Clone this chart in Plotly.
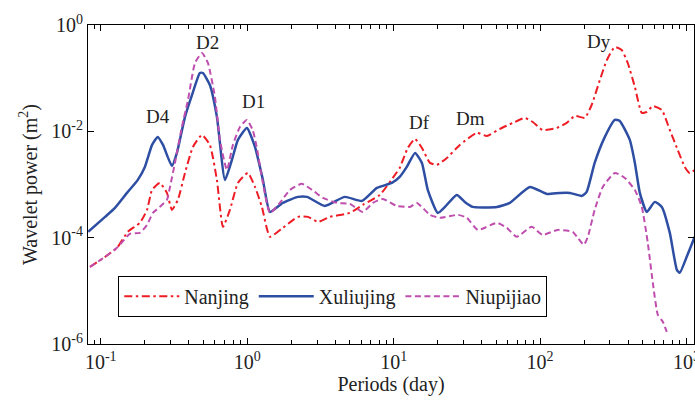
import numpy as np
import plotly.graph_objects as go

# ---- data (period in days, wavelet power in m^2) ----
xul_period = [0.082, 0.107, 0.125, 0.151, 0.179, 0.200, 0.224, 0.245, 0.266, 0.306, 0.331, 0.376,
              0.420, 0.475, 0.498, 0.556, 0.621, 0.705, 0.786, 0.864, 0.995, 1.13, 1.28, 1.43,
              1.75, 2.22, 2.56, 3.39, 4.64, 6.07, 7.69, 9.73, 11.0, 12.3, 14.0, 15.6, 17.1, 20.0,
              22.4, 27.0, 30.6, 34.7, 50.7, 62.1, 85.1, 111, 136, 160, 193, 208, 236, 277, 324,
              350, 410, 444, 480, 536, 607, 678, 769, 859, 899, 1003, 1138]
xul_power = [1.29e-4, 2.46e-4, 3.63e-4, 6.95e-4, 1.22e-3, 2.14e-3, 5.55e-3, 7.85e-3, 5.55e-3, 2.24e-3,
             3.93e-3, 1.87e-2, 4.83e-2, 0.125, 0.125, 0.0745, 1.87e-2, 1.22e-3, 2.90e-3, 6.89e-3,
             1.16e-2, 5.09e-3, 1.22e-3, 3.05e-4, 4.51e-4, 5.85e-4, 5.85e-4, 3.96e-4, 5.85e-4, 4.92e-4,
             8.63e-4, 1.07e-3, 1.39e-3, 2.14e-3, 3.93e-3, 2.55e-3, 7.91e-4, 2.92e-4, 3.79e-4, 6.38e-4,
             4.71e-4, 3.79e-4, 3.79e-4, 4.51e-4, 9.01e-4, 6.65e-4, 6.95e-4, 6.95e-4, 6.11e-4, 7.26e-4,
             2.55e-3, 7.85e-3, 1.64e-2, 1.57e-2, 6.89e-3, 2.55e-3, 6.95e-4, 3.05e-4, 4.71e-4, 3.79e-4,
             1.23e-4, 2.48e-5, 2.18e-5, 4.36e-5, 1.04e-4]

nj_period = [0.0844, 0.107, 0.129, 0.153, 0.185, 0.207, 0.224, 0.253, 0.283, 0.306, 0.336, 0.376,
             0.426, 0.491, 0.556, 0.621, 0.683, 0.762, 0.864, 1.01, 1.13, 1.26, 1.43, 1.75, 2.22,
             2.60, 3.04, 3.67, 5.02, 6.16, 8.05, 10.2, 11.0, 12.5, 14.0, 15.6, 17.7, 19.7, 23.1,
             28.3, 37.0, 43.3, 53.1, 65.1, 78.6, 89.1, 104, 130, 152, 173, 202, 225, 256, 286, 324,
             361, 397, 444, 495, 536, 589, 678, 769, 871, 973, 1052, 1138]
nj_power = [2.83e-5, 4.36e-5, 6.43e-5, 1.29e-4, 1.90e-4, 3.33e-4, 7.91e-4, 1.07e-3, 6.95e-4, 3.33e-4,
            5.14e-4, 1.65e-3, 5.09e-3, 8.55e-3, 5.55e-3, 1.22e-3, 1.60e-4, 3.33e-4, 1.07e-3, 1.65e-3,
            9.01e-4, 3.79e-4, 1.04e-4, 1.53e-4, 2.46e-4, 2.46e-4, 1.98e-4, 2.46e-4, 2.92e-4, 4.14e-4,
            6.38e-4, 1.51e-3, 2.05e-3, 4.88e-3, 7.19e-3, 4.88e-3, 2.55e-3, 2.34e-3, 3.16e-3, 5.55e-3,
            9.33e-3, 8.20e-3, 1.11e-2, 1.44e-2, 1.79e-2, 1.50e-2, 1.06e-2, 1.16e-2, 1.44e-2, 1.95e-2,
            1.79e-2, 3.13e-2, 9.25e-2, 0.220, 0.386, 0.339, 0.193, 0.0684, 2.22e-2, 2.32e-2, 3.00e-2,
            2.52e-2, 1.06e-2, 4.47e-3, 2.14e-3, 1.65e-3, 1.88e-3]

npj_period = [0.0844, 0.107, 0.131, 0.158, 0.185, 0.207, 0.227, 0.253, 0.283, 0.297, 0.321, 0.358,
              0.394, 0.440, 0.491, 0.539, 0.602, 0.651, 0.727, 0.798, 0.892, 0.995, 1.09, 1.16, 1.28,
              1.43, 1.67, 1.96, 2.36, 2.77, 3.29, 4.10, 5.02, 6.16, 7.21, 8.45, 10.5, 12.9, 14.4,
              17.7, 20.7, 27.5, 31.6, 37.6, 50.7, 59.3, 69.3, 87.7, 104, 132, 167, 181, 199, 212,
              236, 268, 324, 379, 444, 495, 544, 589, 637, 689, 733]
npj_power = [2.83e-5, 4.36e-5, 6.71e-5, 1.18e-4, 1.23e-4, 1.74e-4, 2.92e-4, 3.79e-4, 5.14e-4, 9.01e-4,
             2.55e-3, 1.21e-2, 3.89e-2, 0.193, 0.298, 0.193, 4.43e-2, 6.89e-3, 1.88e-3, 5.55e-3,
             1.21e-2, 1.64e-2, 1.06e-2, 5.09e-3, 1.07e-3, 2.92e-4, 4.51e-4, 7.91e-4, 1.03e-3, 7.91e-4,
             5.60e-4, 4.51e-4, 4.32e-4, 3.05e-4, 4.51e-4, 5.36e-4, 3.96e-4, 3.79e-4, 4.51e-4, 2.69e-4,
             2.36e-4, 2.69e-4, 2.36e-4, 1.40e-4, 1.90e-4, 1.53e-4, 1.04e-4, 1.60e-4, 1.13e-4, 1.40e-4,
             1.29e-4, 9.91e-5, 7.32e-5, 1.04e-4, 3.33e-4, 9.01e-4, 1.65e-3, 1.33e-3, 7.91e-4, 3.79e-4,
             7.98e-5, 1.41e-5, 3.54e-6, 2.61e-6, 1.69e-6]

peak_labels = ["D4", "D2", "D1", "Df", "Dm", "Dy"]
peak_label_x = [0.245, 0.533, 1.10, 14.9, 33.6, 252]
peak_label_y = [0.0187, 0.479, 0.0372, 0.0147, 0.0171, 0.49]

x_tickvals = [0.1, 1, 10, 100, 1000]
x_ticktext = ["10<sup>-1</sup>", "10<sup>0</sup>", "10<sup>1</sup>", "10<sup>2</sup>", "10<sup>3</sup>"]
y_tickvals = [1e-6, 1e-4, 1e-2, 1]
y_ticktext = ["10<sup>-6</sup>", "10<sup>-4</sup>", "10<sup>-2</sup>", "10<sup>0</sup>"]

FONT = "Liberation Serif, Times New Roman, serif"
RED = "#EE1C25"
BLUE = "#2D4EA2"
MAG = "#BF4FAE"

fig = go.Figure()
fig.add_trace(go.Scatter(x=nj_period, y=nj_power, mode="lines", name="Nanjing",
                         line=dict(color=RED, width=2, dash="8px,3.5px,2.5px,3.5px",
                                   shape="spline", smoothing=0.5)))
fig.add_trace(go.Scatter(x=xul_period, y=xul_power, mode="lines", name="Xuliujing",
                         line=dict(color=BLUE, width=2.5, shape="spline", smoothing=0.5)))
fig.add_trace(go.Scatter(x=npj_period, y=npj_power, mode="lines", name="Niupijiao",
                         line=dict(color=MAG, width=2, dash="6px,3.5px", shape="spline", smoothing=0.5)))

for t, px_, py_ in zip(peak_labels, peak_label_x, peak_label_y):
    fig.add_annotation(x=np.log10(px_), y=np.log10(py_), text=t, showarrow=False,
                       font=dict(family=FONT, size=19, color="#222"))

minor_vals = [m * 10.0 ** e for e in range(-2, 4) for m in range(2, 10)]

fig.update_layout(
    width=695, height=403,
    margin=dict(l=88, r=1, t=25, b=59, autoexpand=False),
    paper_bgcolor="white", plot_bgcolor="white",
    font=dict(family=FONT, size=20, color="#222"),
    showlegend=True,
    legend=dict(orientation="h", x=0.05, y=0.15, xanchor="left", yanchor="middle",
                bordercolor="black", borderwidth=1, bgcolor="white",
                font=dict(family=FONT, size=20), itemwidth=55, tracegroupgap=0),
)
fig.update_xaxes(type="log", range=[np.log10(0.0818), np.log10(1125)], automargin=False,
                 tickvals=x_tickvals, ticktext=x_ticktext, ticklabeloverflow="allow",
                 ticks="inside", ticklen=6, tickcolor="black", showline=True, linecolor="black",
                 linewidth=1, mirror="ticks", showgrid=False, zeroline=False,
                 minor=dict(tickvals=minor_vals, ticks="inside", ticklen=4, tickcolor="black", showgrid=False),
                 title=dict(text="Periods (day)", standoff=0, font=dict(size=20)))
fig.update_yaxes(type="log", range=[-6, 0], automargin=False,
                 tickvals=y_tickvals, ticktext=y_ticktext, ticklabeloverflow="allow",
                 ticks="inside", ticklen=6, tickcolor="black", showline=True, linecolor="black",
                 linewidth=1, mirror="ticks", showgrid=False, zeroline=False,
                 title=dict(text="Wavelet power (m<sup>2</sup>)", standoff=8, font=dict(size=20)))

fig.write_html("out.html", config={"displayModeBar": False},
               post_script="document.body.style.margin='0';document.body.style.overflow='hidden';")
